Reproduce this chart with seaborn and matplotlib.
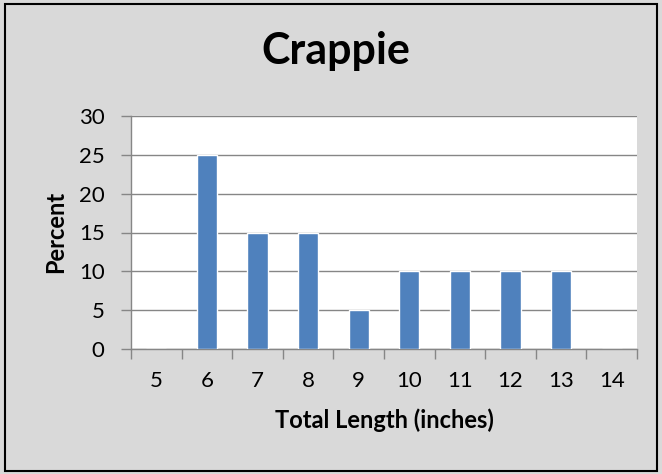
import matplotlib
matplotlib.use("Agg")
import matplotlib.pyplot as plt
import seaborn as sns
import pandas as pd
from matplotlib.patches import Rectangle
from matplotlib.ticker import FixedLocator

lengths = ["5", "6", "7", "8", "9", "10", "11", "12", "13", "14"]
percent = [0, 25, 15, 15, 5, 10, 10, 10, 10, 0]
yticks = [0, 5, 10, 15, 20, 25, 30]

sns.set_theme(style="white")
plt.rcParams['font.family'] = ['Lato', 'DejaVu Sans']
plt.rcParams['text.color'] = 'black'
plt.rcParams['xtick.labelcolor'] = 'black'
plt.rcParams['ytick.labelcolor'] = 'black'

df = pd.DataFrame({"Length": lengths, "Percent": percent})

W, H = 662, 474
fig = plt.figure(figsize=(6.62, 4.74), dpi=100)
fig.patch.set_facecolor("#D9D9D9")
fig.patches.append(Rectangle((5/W, 1-471/H), 652/W, 467/H, transform=fig.transFigure,
                             fill=False, edgecolor="black", linewidth=1.5, zorder=10))

ax = fig.add_axes([131/W, 1-349/H, 506/W, 233/H])
ax.set_facecolor("white")
sns.barplot(data=df, x="Length", y="Percent", order=lengths, color="#4F81BD",
            width=0.4, saturation=1, ax=ax, zorder=3)

ax.set_ylim(0, 30)
ax.set_xlim(-0.5, 9.5)
ax.set_yticks(yticks)
ax.yaxis.grid(True, color="#868686", linewidth=1)
ax.set_axisbelow(True)
for s in ["top", "right"]:
    ax.spines[s].set_visible(False)
for s in ["left", "bottom"]:
    ax.spines[s].set_color("#868686")
    ax.spines[s].set_linewidth(1)

ax.xaxis.set_minor_locator(FixedLocator([i - 0.5 for i in range(len(lengths) + 1)]))
ax.tick_params(axis="x", which="major", length=0, pad=16, labelsize=16, labelcolor="black")
ax.tick_params(axis="x", which="minor", length=7, width=1, color="#868686", bottom=True)
ax.tick_params(axis="y", length=7, width=1, color="#868686", left=True, labelsize=16,
               pad=12, labelcolor="black")

ax.set_xlabel("")
ax.set_ylabel("")
fig.text(384/W, 1-428/H, "Total Length (inches)", ha="center", va="baseline",
         fontsize=17, fontweight="bold", color="black")
fig.text(56/W, 1-232/H, "Percent", ha="center", va="center", rotation=90,
         fontsize=17, fontweight="bold", color="black")
fig.text(336/W, 1-64/H, "Crappie", ha="center", va="baseline", fontsize=31,
         fontweight="bold", color="black")

fig.savefig("out.png", dpi=100, facecolor=fig.get_facecolor())
